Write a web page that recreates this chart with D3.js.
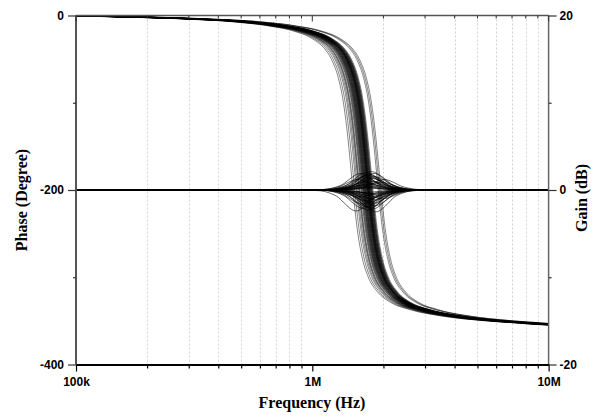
<!DOCTYPE html>
<html>
<head>
<meta charset="utf-8">
<script src="https://cdn.jsdelivr.net/npm/d3@7"></script>
<style>
  body { margin: 0; background: #fff; }
  svg { display: block; }
</style>
</head>
<body>
<script>
// nominal phase response (Hz, degrees)
var phaseFreq = [8e4, 1e5, 2e5, 3e5, 4e5, 5e5, 6e5, 7e5, 8e5, 9e5, 1e6, 1.1e6, 1.2e6, 1.3e6, 1.4e6,
  1.5e6, 1.55e6, 1.6e6, 1.65e6, 1.7e6, 1.75e6, 1.8e6, 1.9e6, 2e6, 2.2e6, 2.5e6, 3e6, 4e6, 5e6,
  6e6, 7e6, 8e6, 1e7, 1.2e7];
var phaseDeg = [-0.3, -0.5, -2, -3.5, -5, -6.5, -8.5, -10.5, -13, -15.5, -19, -23, -29, -37, -50,
  -72, -89, -113, -144, -180, -215, -244, -280, -299, -317, -329, -337, -344, -347.5,
  -349.5, -351, -352, -354, -355];

// shape of the gain ripple around resonance (decades from centre, fraction of peak)
var gainOffsetDec = [-0.22, -0.15, -0.11, -0.075, -0.05, -0.028, -0.012, 0, 0.012, 0.028, 0.05, 0.075, 0.11, 0.15, 0.22];
var gainShape = [0, 0.04, 0.15, 0.35, 0.62, 0.85, 0.97, 1, 0.97, 0.85, 0.62, 0.35, 0.15, 0.04, 0];
var gainCenterHz = 1.78e6;

// Monte Carlo runs: frequency shift of each run and its gain peak (dB)
var runShift = [0.86, 0.875, 0.89, 0.90, 0.91, 0.915, 0.92, 0.93, 0.935, 0.94,
  0.945, 0.95, 0.953, 0.956, 0.96, 0.963, 0.966, 0.969, 0.972, 0.975,
  0.978, 0.981, 0.984, 0.987, 0.99, 0.992, 0.994, 0.996, 0.998, 1.0,
  1.002, 1.004, 1.006, 1.008, 1.01, 1.012, 1.015, 1.018, 1.021, 1.024,
  1.027, 1.03, 1.034, 1.038, 1.045, 1.1, 1.115, 1.13];
var runGainDb = [-2.4, 1.2, -0.8, 1.9, -1.6, 0.5, -2.1, 1.5, -0.3, 0.9,
  -1.2, 2.0, -1.9, 0.3, 1.7, -0.6, -2.3, 1.1, 0.7, -1.4,
  1.8, -1.0, 0.2, -2.0, 1.4, -0.4, 0.6, -1.7, 1.6, -0.9,
  2.1, -1.3, 0.4, -2.2, 1.0, -0.7, 1.3, -1.5, 0.8, -1.1,
  1.9, -0.5, -1.8, 1.5, -2.5, 0.9, -1.0, 1.2];

var xMajor = [1e5, 1e6, 1e7];
var xMajorLabels = ["100k", "1M", "10M"];
var phaseTicks = [0, -100, -200, -300, -400];
var phaseLabels = ["0", "", "-200", "", "-400"];
var gainTicks = [20, 10, 0, -10, -20];
var gainLabels = ["20", "", "0", "", "-20"];

var W = 599, H = 417;
var P = {left: 76, right: 548.6, top: 15.5, bottom: 364.5};
var TICK_FONT = "'Liberation Sans', Arial, sans-serif";
var TITLE_FONT = "'Liberation Serif', 'Times New Roman', serif";

var svg = d3.select("body").append("svg").attr("width", W).attr("height", H);

var x = d3.scaleLog().domain([1e5, 1e7]).range([P.left, P.right]);
var yPhase = d3.scaleLinear().domain([0, -400]).range([P.top, P.bottom]);
var yGain = d3.scaleLinear().domain([20, -20]).range([P.top, P.bottom]);

// all decade ticks 1..9
var xTicks = [];
[1e5, 1e6].forEach(function(dec) {
  for (var m = 1; m < 10; ++m) xTicks.push(m * dec);
});
xTicks.push(1e7);
var isMajor = function(f) { return xMajor.indexOf(f) >= 0; };

// dashed grid on minor ticks
svg.append("g").selectAll("line")
  .data(xTicks.filter(function(f) { return !isMajor(f); }))
  .enter().append("line")
  .attr("x1", function(d) { return Math.round(x(d)) + 0.5; })
  .attr("x2", function(d) { return Math.round(x(d)) + 0.5; })
  .attr("y1", P.top).attr("y2", P.bottom)
  .attr("stroke", "#d2d2d2").attr("stroke-width", 1)
  .attr("stroke-dasharray", "2,2");

svg.append("clipPath").attr("id", "plotclip").append("rect")
  .attr("x", P.left).attr("y", P.top - 1)
  .attr("width", P.right - P.left).attr("height", P.bottom - P.top + 2);

var curves = svg.append("g").attr("clip-path", "url(#plotclip)");

var phaseLine = d3.line()
  .x(function(d) { return x(d[0]); })
  .y(function(d) { return yPhase(d[1]); })
  .curve(d3.curveMonotoneX);
var gainLine = d3.line()
  .x(function(d) { return x(d[0]); })
  .y(function(d) { return yGain(d[1]); })
  .curve(d3.curveMonotoneX);

runShift.forEach(function(k, r) {
  var pts = phaseFreq.map(function(f, i) { return [f * k, phaseDeg[i]]; });
  curves.append("path").attr("d", phaseLine(pts))
    .attr("fill", "none").attr("stroke", "#000")
    .attr("stroke-width", 0.6).attr("stroke-opacity", 0.8);

  var fc = gainCenterHz * k;
  var gpts = [[8e4, 0]];
  gainOffsetDec.forEach(function(d, i) {
    gpts.push([fc * Math.pow(10, d), runGainDb[r] * gainShape[i]]);
  });
  gpts.push([1.2e7, 0]);
  curves.append("path").attr("d", gainLine(gpts))
    .attr("fill", "none").attr("stroke", "#000")
    .attr("stroke-width", 0.7).attr("stroke-opacity", 0.85);
});

// frame lines
var frame = svg.append("g");
frame.append("line").attr("x1", P.left).attr("x2", P.right).attr("y1", P.top).attr("y2", P.top)
  .attr("stroke", "#555").attr("stroke-width", 1.5);
frame.append("line").attr("x1", P.left).attr("x2", P.left).attr("y1", P.top).attr("y2", P.bottom)
  .attr("stroke", "#555").attr("stroke-width", 2);
frame.append("line").attr("x1", P.right).attr("x2", P.right).attr("y1", P.top).attr("y2", P.bottom)
  .attr("stroke", "#666").attr("stroke-width", 1.5);

// top inward ticks
svg.append("g").selectAll("line").data(xTicks).enter().append("line")
  .attr("x1", function(d) { return x(d); }).attr("x2", function(d) { return x(d); })
  .attr("y1", P.top).attr("y2", function(d) { return P.top + (isMajor(d) ? 6 : 3); })
  .attr("stroke", "#333").attr("stroke-width", 1);

// bottom axis
var xAxis = d3.axisBottom(x).tickValues(xTicks).tickSizeOuter(0).tickPadding(6)
  .tickFormat(function(d) { var i = xMajor.indexOf(d); return i >= 0 ? xMajorLabels[i] : ""; });
var gx = svg.append("g").attr("transform", "translate(0," + P.bottom + ")").call(xAxis);
gx.select(".domain").attr("stroke", "#000").attr("stroke-width", 2);
gx.selectAll(".tick line").attr("stroke", "#000").attr("stroke-width", 1.2)
  .attr("y2", function(d) { return isMajor(d) ? 7 : 4; });
gx.selectAll(".tick text").attr("y", 13);

// left axis
var yAxisL = d3.axisLeft(yPhase).tickValues(phaseTicks).tickSizeOuter(0).tickPadding(3)
  .tickFormat(function(d, i) { return phaseLabels[i]; });
var gl = svg.append("g").attr("transform", "translate(" + P.left + ",0)").call(yAxisL);
gl.select(".domain").remove();
gl.selectAll(".tick line").attr("stroke", "#333").attr("stroke-width", 1.2)
  .attr("x2", function(d, i) { return phaseLabels[i] ? -8 : -3; });
gl.selectAll(".tick text").attr("x", -12);

// right axis
var yAxisR = d3.axisRight(yGain).tickValues(gainTicks).tickSizeOuter(0)
  .tickFormat(function(d, i) { return gainLabels[i]; });
var gr = svg.append("g").attr("transform", "translate(" + P.right + ",0)").call(yAxisR);
gr.select(".domain").remove();
gr.selectAll(".tick line").attr("stroke", "#333").attr("stroke-width", 1.2)
  .attr("x2", function(d, i) { return gainLabels[i] ? 8 : 3; });
gr.selectAll(".tick text").attr("x", 11);

svg.selectAll(".tick text")
  .attr("font-family", TICK_FONT).attr("font-weight", "bold")
  .attr("font-size", 12).attr("fill", "#000");

// axis titles
svg.append("text").attr("x", 312).attr("y", 408)
  .attr("text-anchor", "middle").attr("font-family", TITLE_FONT)
  .attr("font-weight", "bold").attr("font-size", 16)
  .text("Frequency (Hz)");
svg.append("text").attr("transform", "translate(27,200) rotate(-90)")
  .attr("text-anchor", "middle").attr("font-family", TITLE_FONT)
  .attr("font-weight", "bold").attr("font-size", 16)
  .text("Phase (Degree)");
svg.append("text").attr("transform", "translate(587,198) rotate(-90)")
  .attr("text-anchor", "middle").attr("font-family", TITLE_FONT)
  .attr("font-weight", "bold").attr("font-size", 16)
  .text("Gain (dB)");
</script>
</body>
</html>
